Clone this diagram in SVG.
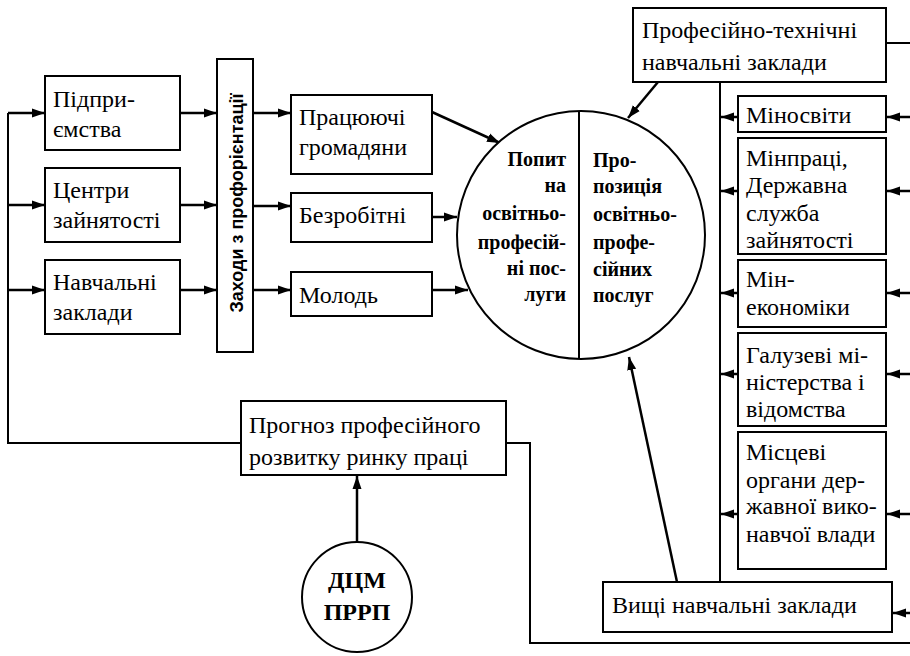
<svg xmlns="http://www.w3.org/2000/svg" width="910" height="656" viewBox="0 0 910 656">
<defs>
<marker id="ah" markerUnits="userSpaceOnUse" markerWidth="14" markerHeight="10" refX="13" refY="5" orient="auto">
<path d="M0,0.5 L13,5 L0,9.5 Z" fill="#000"/>
</marker>
<style>
.box{fill:#fff;stroke:#000;stroke-width:2}
.a{fill:none;stroke:#000;stroke-width:2.5;marker-end:url(#ah)}
.l{fill:none;stroke:#000;stroke-width:2}
</style>
</defs>
<rect width="910" height="656" fill="#fff"/>

<g id="connectors">
<polyline class="l" points="241,443 8,443 8,113"/>
<line class="a" x1="8" y1="113" x2="45" y2="113"/>
<line class="a" x1="8" y1="205" x2="45" y2="205"/>
<line class="a" x1="8" y1="290" x2="45" y2="290"/>
<line class="a" x1="180" y1="113" x2="217" y2="113"/>
<line class="a" x1="180" y1="205" x2="217" y2="205"/>
<line class="a" x1="180" y1="290" x2="217" y2="290"/>
<line class="a" x1="253" y1="113" x2="291" y2="113"/>
<line class="a" x1="253" y1="206" x2="291" y2="206"/>
<line class="a" x1="253" y1="290" x2="291" y2="290"/>
<line class="a" x1="432" y1="112" x2="500" y2="143"/>
<line class="a" x1="432" y1="217" x2="457" y2="217"/>
<line class="a" x1="432" y1="290" x2="468" y2="290"/>
<line class="a" x1="658" y1="82" x2="628" y2="118"/>
<line class="a" x1="677" y1="582" x2="629" y2="357"/>
<line class="a" x1="357" y1="542" x2="357" y2="476"/>
<line class="l" x1="886" y1="43" x2="910" y2="43"/>
<line class="l" x1="720" y1="82" x2="720" y2="582"/>
<polyline class="l" points="506,443 530,443 530,643 910,643"/>
<line class="a" x1="910" y1="117" x2="887" y2="117"/>
<line class="a" x1="910" y1="191" x2="887" y2="191"/>
<line class="a" x1="910" y1="293" x2="887" y2="293"/>
<line class="a" x1="910" y1="374" x2="887" y2="374"/>
<line class="a" x1="910" y1="514" x2="887" y2="514"/>
<line class="a" x1="910" y1="613" x2="893" y2="613"/>
<line class="a" x1="738" y1="117" x2="721" y2="117"/>
<line class="a" x1="738" y1="191" x2="721" y2="191"/>
<line class="a" x1="738" y1="293" x2="721" y2="293"/>
<line class="a" x1="738" y1="374" x2="721" y2="374"/>
<line class="a" x1="738" y1="514" x2="721" y2="514"/>
</g>

<g id="pidpryiemstva">
<rect class="box" x="45" y="76" width="135" height="74"/>
<text x="53" y="107" style="font-family:'Liberation Serif',serif;font-size:24px">Підпри-</text>
<text x="53" y="137" style="font-family:'Liberation Serif',serif;font-size:24px">ємства</text>
</g>
<g id="tsentry">
<rect class="box" x="45" y="168" width="135" height="74"/>
<text x="53" y="198" style="font-family:'Liberation Serif',serif;font-size:24px">Центри</text>
<text x="53" y="228" style="font-family:'Liberation Serif',serif;font-size:24px">зайнятості</text>
</g>
<g id="navchalni">
<rect class="box" x="45" y="260" width="135" height="74"/>
<text x="53" y="290" style="font-family:'Liberation Serif',serif;font-size:24px">Навчальні</text>
<text x="53" y="320" style="font-family:'Liberation Serif',serif;font-size:24px">заклади</text>
</g>
<g id="pratsiuiuchi">
<rect class="box" x="291" y="95" width="141" height="79"/>
<text x="299" y="125" style="font-family:'Liberation Serif',serif;font-size:24px">Працюючі</text>
<text x="299" y="155" style="font-family:'Liberation Serif',serif;font-size:24px">громадяни</text>
</g>
<g id="bezrobitni">
<rect class="box" x="291" y="193" width="141" height="49"/>
<text x="299" y="223" style="font-family:'Liberation Serif',serif;font-size:24px">Безробітні</text>
</g>
<g id="molod">
<rect class="box" x="291" y="272" width="141" height="44"/>
<text x="299" y="303" style="font-family:'Liberation Serif',serif;font-size:24px">Молодь</text>
</g>
<g id="proftekh">
<rect class="box" x="633" y="8" width="253" height="74"/>
<text x="642" y="38" style="font-family:'Liberation Serif',serif;font-size:24px">Професійно-технічні</text>
<text x="642" y="70" style="font-family:'Liberation Serif',serif;font-size:24px">навчальні заклади</text>
</g>
<g id="minosvity">
<rect class="box" x="738" y="96" width="148" height="36"/>
<text x="746" y="123" style="font-family:'Liberation Serif',serif;font-size:24px">Міносвіти</text>
</g>
<g id="minpratsi">
<rect class="box" x="738" y="138" width="148" height="116"/>
<text x="746" y="166" style="font-family:'Liberation Serif',serif;font-size:24px">Мінпраці,</text>
<text x="746" y="193" style="font-family:'Liberation Serif',serif;font-size:24px">Державна</text>
<text x="746" y="221" style="font-family:'Liberation Serif',serif;font-size:24px">служба</text>
<text x="746" y="248" style="font-family:'Liberation Serif',serif;font-size:24px">зайнятості</text>
</g>
<g id="minekonomiky">
<rect class="box" x="738" y="260" width="148" height="67"/>
<text x="746" y="287" style="font-family:'Liberation Serif',serif;font-size:24px">Мін-</text>
<text x="746" y="315" style="font-family:'Liberation Serif',serif;font-size:24px">економіки</text>
</g>
<g id="haluzevi">
<rect class="box" x="738" y="333" width="148" height="93"/>
<text x="746" y="363" style="font-family:'Liberation Serif',serif;font-size:24px">Галузеві мі-</text>
<text x="746" y="390" style="font-family:'Liberation Serif',serif;font-size:24px">ністерства і</text>
<text x="746" y="417" style="font-family:'Liberation Serif',serif;font-size:24px">відомства</text>
</g>
<g id="mistsevi">
<rect class="box" x="738" y="432" width="148" height="137"/>
<text x="746" y="460" style="font-family:'Liberation Serif',serif;font-size:24px">Місцеві</text>
<text x="746" y="488" style="font-family:'Liberation Serif',serif;font-size:24px">органи дер-</text>
<text x="746" y="514" style="font-family:'Liberation Serif',serif;font-size:24px">жавної вико-</text>
<text x="746" y="542" style="font-family:'Liberation Serif',serif;font-size:24px">навчої влади</text>
</g>
<g id="vyshchi">
<rect class="box" x="603" y="582" width="289" height="50"/>
<text x="612" y="613" style="font-family:'Liberation Serif',serif;font-size:24px">Вищі навчальні заклади</text>
</g>
<g id="prohnoz">
<rect class="box" x="241" y="401" width="265" height="74"/>
<text x="249" y="433" style="font-family:'Liberation Serif',serif;font-size:24px">Прогноз професійного</text>
<text x="249" y="465" style="font-family:'Liberation Serif',serif;font-size:24px">розвитку ринку праці</text>
</g>

<g id="zakhody">
<rect class="box" x="217" y="59" width="36" height="293"/>
<text x="243" y="203" transform="rotate(-90 243 203)" text-anchor="middle" style="font-family:'Liberation Sans',sans-serif;font-size:18px;font-weight:bold">Заходи з профорієнтації</text>
</g>

<g id="circle">
<circle cx="581" cy="235" r="124" fill="#fff" stroke="#000" stroke-width="2"/>
<line x1="579" y1="111" x2="579" y2="359" stroke="#000" stroke-width="2"/>
<text x="566" y="166" text-anchor="end" style="font-family:'Liberation Serif',serif;font-size:20px;font-weight:bold">Попит</text>
<text x="566" y="192" text-anchor="end" style="font-family:'Liberation Serif',serif;font-size:20px;font-weight:bold">на</text>
<text x="566" y="220" text-anchor="end" style="font-family:'Liberation Serif',serif;font-size:20px;font-weight:bold">освітньо-</text>
<text x="566" y="249" text-anchor="end" style="font-family:'Liberation Serif',serif;font-size:20px;font-weight:bold">професій-</text>
<text x="566" y="275" text-anchor="end" style="font-family:'Liberation Serif',serif;font-size:20px;font-weight:bold">ні  пос-</text>
<text x="566" y="301" text-anchor="end" style="font-family:'Liberation Serif',serif;font-size:20px;font-weight:bold">луги</text>
<text x="593" y="167" style="font-family:'Liberation Serif',serif;font-size:20px;font-weight:bold">Про-</text>
<text x="593" y="193" style="font-family:'Liberation Serif',serif;font-size:20px;font-weight:bold">позиція</text>
<text x="593" y="221" style="font-family:'Liberation Serif',serif;font-size:20px;font-weight:bold">освітньо-</text>
<text x="593" y="249" style="font-family:'Liberation Serif',serif;font-size:20px;font-weight:bold">профе-</text>
<text x="593" y="276" style="font-family:'Liberation Serif',serif;font-size:20px;font-weight:bold">сійних</text>
<text x="593" y="302" style="font-family:'Liberation Serif',serif;font-size:20px;font-weight:bold">послуг</text>
</g>

<g id="dtsm">
<circle cx="357" cy="597" r="55" fill="#fff" stroke="#000" stroke-width="2"/>
<text x="357" y="588" text-anchor="middle" style="font-family:'Liberation Serif',serif;font-size:24px;font-weight:bold">ДЦМ</text>
<text x="357" y="620" text-anchor="middle" style="font-family:'Liberation Serif',serif;font-size:24px;font-weight:bold">ПРРП</text>
</g>
</svg>
